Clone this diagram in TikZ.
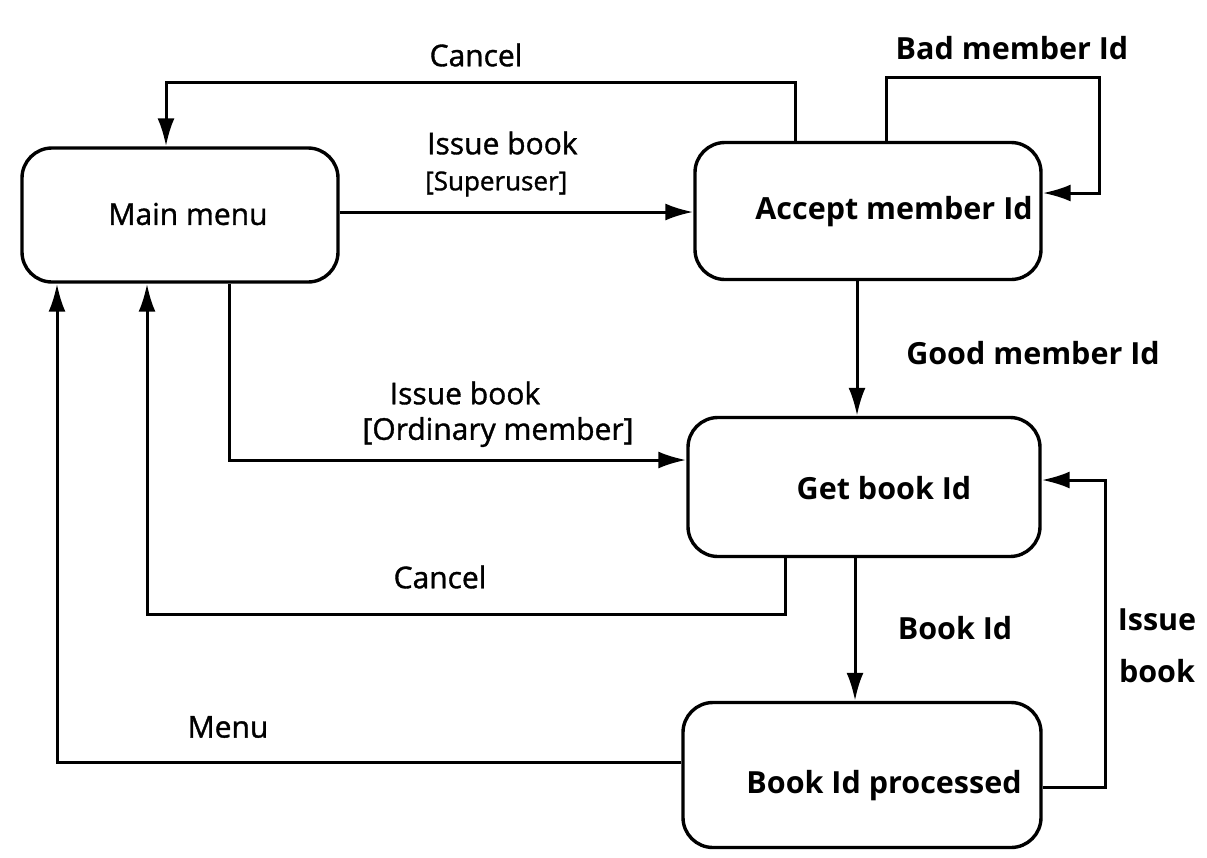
\documentclass[tikz,border=0pt]{standalone}
\usepackage{fontspec}
\setmainfont{Open Sans}
\newfontfamily\medfont[FakeBold=1.2]{Open Sans}
\usetikzlibrary{arrows.meta}
\tikzset{
  statebox/.style={draw, line width=3.4pt, rounded corners=30pt, fill=none},
  conn/.style={line width=3pt, -{Latex[length=28pt,width=17pt]}},
  lbl/.style={font=\fontsize{30}{34}\medfont, inner sep=0pt},
  lblb/.style={font=\fontsize{30.5}{34}\selectfont\bfseries, inner sep=0pt},
  lbls/.style={font=\fontsize{26}{28}\medfont, inner sep=0pt},
}
\begin{document}
\begin{tikzpicture}[x=1pt,y=-1pt]
\useasboundingbox (0,0) rectangle (1207,857);
\fill[white] (0,0) rectangle (1207,857);

% states
\node[statebox, minimum width=316pt, minimum height=134pt] (mm) at (180,215) {};
\node[statebox, minimum width=346pt, minimum height=137pt] (acc) at (868,211) {};
\node[statebox, minimum width=352pt, minimum height=139pt] (gb) at (864,487) {};
\node[statebox, minimum width=358pt, minimum height=145pt] (bp) at (862,775) {};

\node[lbl] (tmm) at (188,214) {Main menu};
\node[lblb] (tacc) at (894,212) {Accept member Id};
\node[lblb] (tgb) at (884,488) {Get book Id};
\node[lblb] (tbp) at (884,786) {Book Id processed};

% bend points
\coordinate (c1) at (795,82);
\coordinate (c2) at (166,82);
\coordinate (b1) at (886,77);
\coordinate (b2) at (1099,77);
\coordinate (b3) at (1099,193);
\coordinate (s1) at (340,212);
\coordinate (o1) at (229,460);
\coordinate (g1) at (857,0);
\coordinate (k1) at (785,614);
\coordinate (k2) at (147,614);
\coordinate (bk) at (855,0);
\coordinate (m1) at (57,762);
\coordinate (r1) at (1105,787);
\coordinate (r2) at (1105,480);

% connectors
\draw[conn] (c1 |- acc.north) -- (c1) -- (c2) -- (c2 |- mm.north);
\draw[conn] (b1 |- acc.north) -- (b1) -- (b2) -- (b3) -- (acc.east |- b3);
\draw[conn] (mm.east |- s1) -- (acc.west |- s1);
\draw[conn] (o1 |- mm.south) -- (o1) -- (gb.west |- o1);
\draw[conn] (g1 |- acc.south) -- (g1 |- gb.north);
\draw[conn] (k1 |- gb.south) -- (k1) -- (k2) -- (k2 |- mm.south);
\draw[conn] (bk |- gb.south) -- (bk |- bp.north);
\draw[conn] (bp.west |- m1) -- (m1) -- (m1 |- mm.south);
\draw[conn] (bp.east |- r1) -- (r1) -- (r2) -- (gb.east |- r2);

% labels
\node[lbl] (lc1) at (476,55) {Cancel};
\node[lblb] (lbad) at (1012,48) {Bad member Id};
\node[lbl, anchor=west] (lis1) at (427,143) {Issue book};
\node[lbls, anchor=west] (lsu) at (425,184) {[Superuser]};
\node[lbl] (lis2) at (465,393) {Issue book};
\node[lbl] (lord) at (498,432) {[Ordinary member]};
\node[lblb] (lgood) at (1033,353) {Good member Id};
\node[lbl] (lc2) at (440,577) {Cancel};
\node[lblb] (lbid) at (955,628) {Book Id};
\node[lblb] (liss) at (1157,620) {Issue};
\node[lblb] (lbook) at (1157,671) {book};
\node[lbl] (lmenu) at (228,727) {Menu};
\end{tikzpicture}
\end{document}
